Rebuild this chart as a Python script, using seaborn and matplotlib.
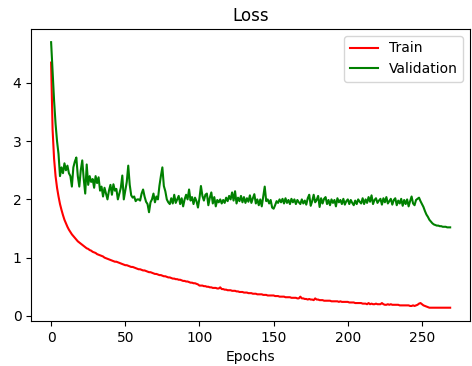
import numpy as np
import pandas as pd
import matplotlib
matplotlib.use("Agg")
import matplotlib.pyplot as plt
import seaborn as sns

# Loss values, one per epoch
train_loss = [
    4.35, 3.20, 2.70, 2.40, 2.20, 2.05, 1.92, 1.82, 1.73, 1.65,
    1.59, 1.53, 1.48, 1.44, 1.40, 1.37, 1.34, 1.31, 1.28, 1.26,
    1.24, 1.22, 1.20, 1.18, 1.16, 1.15, 1.13, 1.12, 1.10, 1.09,
    1.08, 1.06, 1.05, 1.04, 1.03, 1.02, 1.00, 0.99, 0.98, 0.97,
    0.96, 0.95, 0.94, 0.93, 0.93, 0.92, 0.91, 0.90, 0.89, 0.88,
    0.87, 0.87, 0.86, 0.85, 0.84, 0.84, 0.83, 0.82, 0.81, 0.80,
    0.80, 0.79, 0.78, 0.78, 0.77, 0.76, 0.75, 0.75, 0.74, 0.73,
    0.72, 0.72, 0.71, 0.70, 0.70, 0.69, 0.68, 0.68, 0.67, 0.66,
    0.66, 0.65, 0.64, 0.64, 0.63, 0.63, 0.62, 0.62, 0.61, 0.60,
    0.60, 0.59, 0.59, 0.58, 0.57, 0.57, 0.56, 0.56, 0.55, 0.54,
    0.52, 0.52, 0.52, 0.51, 0.51, 0.50, 0.50, 0.49, 0.49, 0.48,
    0.48, 0.48, 0.47, 0.47, 0.49, 0.46, 0.46, 0.45, 0.45, 0.44,
    0.44, 0.44, 0.43, 0.43, 0.43, 0.42, 0.42, 0.41, 0.41, 0.41,
    0.40, 0.40, 0.40, 0.39, 0.39, 0.39, 0.38, 0.38, 0.38, 0.37,
    0.37, 0.37, 0.37, 0.36, 0.36, 0.36, 0.35, 0.35, 0.35, 0.35,
    0.35, 0.34, 0.34, 0.34, 0.33, 0.33, 0.33, 0.33, 0.32, 0.32,
    0.32, 0.32, 0.31, 0.31, 0.31, 0.31, 0.30, 0.30, 0.33, 0.30,
    0.30, 0.29, 0.29, 0.28, 0.29, 0.28, 0.28, 0.27, 0.30, 0.28,
    0.28, 0.27, 0.27, 0.27, 0.26, 0.26, 0.26, 0.26, 0.26, 0.25,
    0.25, 0.25, 0.25, 0.25, 0.24, 0.25, 0.24, 0.24, 0.24, 0.24,
    0.24, 0.23, 0.23, 0.23, 0.23, 0.22, 0.22, 0.22, 0.22, 0.22,
    0.21, 0.21, 0.21, 0.20, 0.22, 0.20, 0.21, 0.20, 0.20, 0.21,
    0.20, 0.20, 0.20, 0.22, 0.20, 0.19, 0.19, 0.20, 0.19, 0.20,
    0.19, 0.19, 0.19, 0.19, 0.19, 0.18, 0.18, 0.18, 0.18, 0.18,
    0.18, 0.18, 0.17, 0.17, 0.18, 0.17, 0.18, 0.19, 0.21, 0.22,
    0.20, 0.18, 0.17, 0.16, 0.15, 0.14, 0.14, 0.14, 0.14, 0.14,
    0.14, 0.14, 0.14, 0.14, 0.14, 0.14, 0.14, 0.14, 0.14, 0.14,
]

val_loss = [
    4.70, 4.20, 3.70, 3.30, 3.00, 2.78, 2.40, 2.55, 2.45, 2.62,
    2.50, 2.58, 2.45, 2.40, 2.22, 2.55, 2.65, 2.72, 2.40, 2.22,
    2.50, 2.67, 2.35, 2.10, 2.60, 2.25, 2.40, 2.30, 2.35, 2.20,
    2.40, 2.28, 2.38, 2.15, 2.22, 2.05, 2.20, 2.10, 2.00, 2.15,
    2.25, 2.08, 2.26, 2.15, 2.18, 2.00, 2.10, 2.20, 2.41, 2.00,
    2.15, 2.30, 2.58, 2.25, 2.07, 2.03, 2.05, 1.97, 2.00, 2.00,
    1.98, 2.10, 2.17, 2.05, 1.96, 1.92, 1.78, 1.95, 2.00, 2.10,
    1.95, 2.05, 2.00, 2.23, 2.40, 2.55, 2.23, 2.14, 2.00, 1.95,
    1.92, 2.02, 1.93, 2.08, 1.94, 2.00, 2.06, 1.92, 2.02, 1.88,
    2.00, 2.08, 2.00, 2.17, 1.98, 2.04, 1.92, 2.03, 1.97, 1.86,
    2.02, 2.23, 2.06, 1.98, 2.08, 2.10, 1.90, 2.03, 2.12, 1.93,
    2.04, 1.88, 1.99, 1.95, 2.00, 1.93, 1.99, 1.94, 2.03, 1.97,
    2.06, 2.00, 2.12, 1.98, 2.14, 1.93, 2.03, 1.97, 2.06, 1.95,
    2.04, 1.94, 2.02, 1.96, 2.07, 1.94, 2.02, 2.09, 1.93, 2.00,
    1.90, 2.00, 1.88, 2.05, 2.22, 1.97, 2.00, 1.93, 1.99, 1.86,
    1.84, 1.90, 1.97, 1.94, 2.00, 1.95, 2.01, 1.93, 2.02, 1.94,
    1.99, 1.92, 2.01, 1.95, 2.00, 1.92, 1.99, 1.95, 1.92, 2.00,
    1.93, 1.98, 1.91, 2.02, 2.08, 1.89, 1.97, 2.08, 1.95, 1.99,
    2.06, 1.87, 2.02, 1.93, 2.01, 2.04, 1.92, 1.99, 1.90, 2.00,
    1.94, 1.99, 1.88, 2.02, 1.95, 1.99, 1.92, 2.01, 1.91, 1.97,
    2.00, 1.92, 1.99, 1.94, 1.90, 1.98, 1.92, 2.00, 1.96, 1.93,
    2.02, 1.92, 2.00, 1.94, 2.04, 1.96, 2.07, 1.92, 1.99, 2.02,
    1.94, 1.98, 2.01, 1.91, 2.02, 1.95, 2.04, 1.93, 1.97, 2.01,
    1.91, 1.99, 2.02, 1.90, 1.98, 1.93, 2.01, 1.89, 1.99, 1.92,
    2.00, 1.88, 1.97, 2.05, 1.93, 1.90, 1.99, 2.01, 2.03, 1.97,
    1.92, 1.87, 1.80, 1.74, 1.70, 1.65, 1.62, 1.59, 1.57, 1.56,
    1.55, 1.55, 1.54, 1.54, 1.53, 1.53, 1.53, 1.52, 1.52, 1.52,
]

epochs = np.arange(len(train_loss))
series_names = ["Train", "Validation"]
series_colors = ["red", "green"]

df = pd.DataFrame({"Epochs": epochs, "Train": train_loss, "Validation": val_loss})
long_df = df.melt(id_vars="Epochs", var_name="series", value_name="loss")

fig = plt.figure(figsize=(4.72, 3.66), dpi=100)
ax = fig.add_axes([0.066, 0.123, 0.93, 0.798])

sns.lineplot(
    data=long_df, x="Epochs", y="loss", hue="series",
    hue_order=series_names, palette=series_colors,
    linewidth=1.5, ax=ax,
)

ax.set_title("Loss")
ax.set_xlabel("Epochs")
ax.set_ylabel("")
ax.set_xticks([0, 50, 100, 150, 200, 250])
ax.set_yticks([0, 1, 2, 3, 4])
ax.legend(title=None, loc="upper right")

fig.savefig("out.png", dpi=100)
